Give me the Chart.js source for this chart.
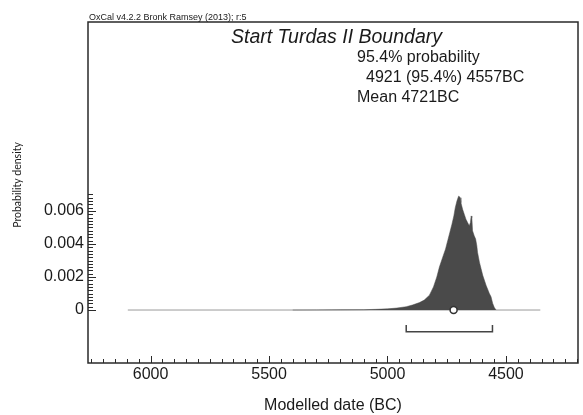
<!DOCTYPE html>
<html>
<head>
<meta charset="utf-8">
<script src="https://cdn.jsdelivr.net/npm/chart.js@4.4.1/dist/chart.umd.min.js"></script>
<style>
  html, body { margin: 0; padding: 0; background: #ffffff; }
  canvas { display: block; }
</style>
</head>
<body>
<canvas id="c" width="583" height="415"></canvas>
<script>
// ---- Data ----
const dates = [5400, 5300, 5200, 5100, 5050, 5000, 4960, 4921, 4895, 4865, 4845, 4823, 4806, 4792, 4781, 4767, 4755, 4746, 4737, 4728, 4720, 4714, 4707, 4700, 4697, 4693, 4690, 4683, 4676, 4669, 4662, 4655, 4650, 4647, 4644, 4641, 4634, 4628, 4623, 4620, 4612, 4598, 4584, 4570, 4563, 4556, 4549, 4542];
const density = [0, 0.000005, 0.00001, 0.00002, 0.00004, 0.00007, 0.00012, 0.0002, 0.0003, 0.00045, 0.0006, 0.0009, 0.0014, 0.002, 0.0026, 0.0032, 0.0037, 0.0042, 0.0047, 0.0052, 0.0057, 0.0062, 0.0066, 0.0069, 0.00688, 0.0068, 0.0065, 0.0061, 0.0058, 0.0055, 0.0053, 0.0051, 0.0053, 0.0057, 0.0056, 0.0048, 0.0045, 0.0043, 0.0039, 0.0035, 0.0029, 0.0021, 0.0015, 0.001, 0.0008, 0.0004, 0.00015, 0];
const priorSpan = [6096, 4355];        // extent of the thin base line (BC)
const range954 = [4921, 4557];         // 95.4% range (BC)
const meanDate = [4721];               // mean (BC)
const xTickValues = [4500, 5000, 5500, 6000];
const yTickValues = [0, 0.002, 0.004, 0.006];
const titleText = 'Start Turdas II Boundary';
const infoLines = ['95.4% probability', '4921 (95.4%) 4557BC', 'Mean 4721BC'];
const creditText = 'OxCal v4.2.2 Bronk Ramsey (2013); r:5';
const xTitle = 'Modelled date (BC)';
const yTitle = 'Probability density';

// ---- Build datasets ----
const distPts = dates.map((d, i) => ({x: d, y: density[i]}));
const basePts = priorSpan.map(d => ({x: d, y: 0}));
const meanPts = meanDate.map(d => ({x: d, y: 0}));
const barLevel = -0.00132, barTip = -0.00091;
const bracketPts = [
  {x: range954[0], y: barTip}, {x: range954[0], y: barLevel},
  {x: range954[1], y: barLevel}, {x: range954[1], y: barTip}
];

const FONT = "'Liberation Sans', Arial, sans-serif";
const INK = '#1a1a1a';

const framePlugin = {
  id: 'frame',
  afterDraw(chart) {
    const {ctx, chartArea: a, scales: {x, y}} = chart;
    ctx.save();
    ctx.strokeStyle = '#2a2a2a';
    // minor / major x ticks (inward)
    ctx.lineWidth = 1;
    ctx.beginPath();
    const lo = Math.min(x.min, x.max), hi = Math.max(x.min, x.max);
    for (let v = Math.ceil(lo / 50) * 50; v <= hi; v += 50) {
      const px = Math.round(x.getPixelForValue(v)) + 0.5;
      const len = (v % 500 === 0) ? 7 : 4;
      ctx.moveTo(px, a.bottom);
      ctx.lineTo(px, a.bottom - len);
    }
    // y ticks (inward)
    for (let k = 0; k <= 35; k++) {
      const v = k * 0.0002;
      const py = Math.round(y.getPixelForValue(v)) + 0.5;
      const len = (k % 10 === 0) ? 8 : 5;
      ctx.moveTo(a.left, py);
      ctx.lineTo(a.left + len, py);
    }
    ctx.stroke();
    // frame
    ctx.lineWidth = 1.5;
    ctx.strokeRect(a.left, a.top, a.right - a.left, a.bottom - a.top);

    // texts
    ctx.fillStyle = INK;
    ctx.textBaseline = 'alphabetic';
    ctx.textAlign = 'left';
    ctx.font = '9px ' + FONT;
    ctx.fillText(creditText, 89, 19.5);
    ctx.font = 'italic 19.5px ' + FONT;
    ctx.fillText(titleText, 231, 42.5);
    ctx.font = '16px ' + FONT;
    ctx.fillText(infoLines[0], 357, 62);
    ctx.fillText(infoLines[1], 366, 82);
    ctx.fillText(infoLines[2], 357, 102);

    // y axis title
    ctx.save();
    ctx.translate(17.5, 185);
    ctx.rotate(-Math.PI / 2);
    ctx.textAlign = 'center';
    ctx.textBaseline = 'middle';
    ctx.font = "10.5px Lato, 'Open Sans', sans-serif";
    ctx.fillText(yTitle, 0, 0);
    ctx.restore();
    ctx.restore();
  }
};

new Chart(document.getElementById('c'), {
  type: 'scatter',
  data: {
    datasets: [
      { label: 'mean', data: meanPts, order: 0, pointRadius: 3.5, pointHoverRadius: 3.5,
        pointBackgroundColor: '#ffffff', pointBorderColor: '#333333', pointBorderWidth: 1.5, showLine: false },
      { label: 'range', data: bracketPts, order: 1, showLine: true, borderColor: '#444444',
        borderWidth: 1.5, pointRadius: 0, fill: false, tension: 0 },
      { label: 'posterior', data: distPts, order: 2, showLine: true, borderColor: '#4a4a4a',
        borderWidth: 0.5, backgroundColor: '#4a4a4a', fill: 'origin', pointRadius: 0, tension: 0 },
      { label: 'base', data: basePts, order: 3, showLine: true, borderColor: '#9a9a9a',
        borderWidth: 1, pointRadius: 0, fill: false }
    ]
  },
  options: {
    responsive: false,
    animation: false,
    devicePixelRatio: 1,
    layout: { padding: { top: 22, right: 4, left: 0, bottom: 0 } },
    plugins: { legend: { display: false }, tooltip: { enabled: false } },
    scales: {
      x: {
        type: 'linear', reverse: true, min: 4196, max: 6264,
        grid: { display: false, drawTicks: false }, border: { display: false },
        afterBuildTicks(s) { s.ticks = xTickValues.map(v => ({value: v})); },
        afterFit(s) { s.height = 52; },
        ticks: { padding: 2, color: INK, font: { family: FONT, size: 16 },
                 callback: v => String(v), maxRotation: 0, autoSkip: false },
        title: { display: true, text: xTitle, color: INK, padding: 0,
                 font: { family: FONT, size: 16 } }
      },
      y: {
        type: 'linear', min: -0.00321, max: 0.01745,
        grid: { display: false, drawTicks: false }, border: { display: false },
        afterBuildTicks(s) { s.ticks = yTickValues.map(v => ({value: v})); },
        afterFit(s) { s.width = 88; },
        ticks: { padding: 4, color: INK, font: { family: FONT, size: 16 },
                 callback: v => (v === 0 ? '0' : v.toFixed(3)), autoSkip: false },
        title: { display: false }
      }
    }
  },
  plugins: [framePlugin]
});
</script>
</body>
</html>
